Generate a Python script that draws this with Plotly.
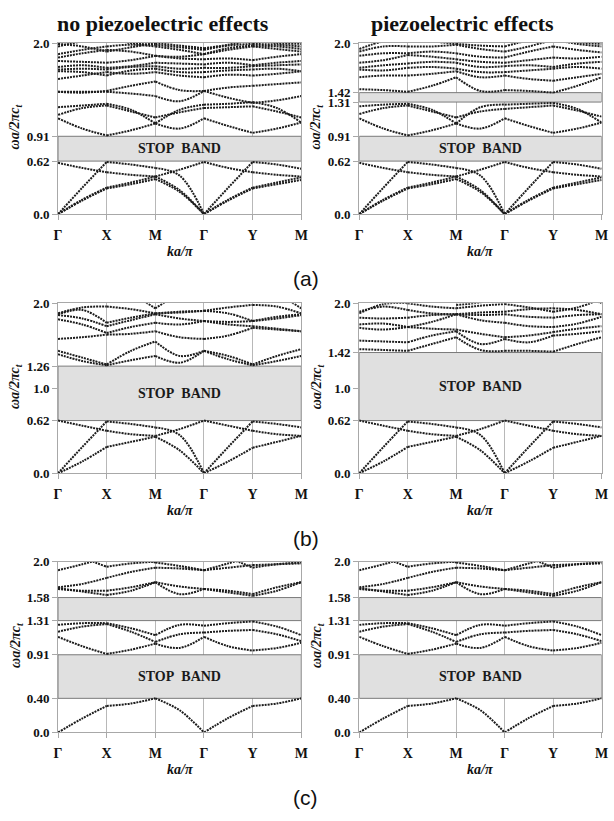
import plotly.graph_objects as go

# ---------------- data ----------------
K = [0, 0.5, 1, 1.5, 2, 2.5, 3, 3.5, 4, 4.5, 5]          # Γ X M Γ Y M path coordinate
K_LABELS = ["Γ", "X", "M", "Γ", "Y", "M"]

# panel (a): no piezoelectric effects
a_ta1 = [0, 0.16, 0.30, 0.35, 0.41, 0.26, 0, 0.16, 0.30, 0.35, 0.40]
a_ta2 = [0, 0.17, 0.31, 0.37, 0.44, 0.28, 0, 0.17, 0.31, 0.37, 0.43]
a_la = [0, 0.31, 0.61, 0.58, 0.54, 0.45, 0, 0.31, 0.61, 0.58, 0.53]
a_o1 = [0.60, 0.54, 0.49, 0.46, 0.44, 0.52, 0.61, 0.54, 0.49, 0.46, 0.44]
a_m1 = [1.12, 1.00, 0.92, 0.98, 1.06, 1.00, 1.12, 1.03, 0.95, 1.00, 1.07]
a_m2 = [1.16, 1.24, 1.27, 1.20, 1.13, 1.19, 1.24, 1.25, 1.26, 1.20, 1.13]
a_m3 = [1.25, 1.27, 1.29, 1.22, 1.06, 1.22, 1.28, 1.29, 1.31, 1.24, 1.07]
a_m4 = [1.43, 1.43, 1.43, 1.41, 1.38, 1.32, 1.44, 1.36, 1.30, 1.33, 1.38]
a_m5 = [1.43, 1.42, 1.44, 1.50, 1.55, 1.45, 1.44, 1.48, 1.50, 1.52, 1.54]
a_u1 = [1.58, 1.62, 1.66, 1.64, 1.66, 1.62, 1.60, 1.63, 1.62, 1.64, 1.67]
a_u2 = [1.67, 1.66, 1.62, 1.68, 1.70, 1.66, 1.66, 1.68, 1.69, 1.70, 1.67]
a_u3 = [1.69, 1.70, 1.69, 1.72, 1.73, 1.70, 1.71, 1.71, 1.73, 1.74, 1.75]
a_u4 = [1.72, 1.74, 1.71, 1.73, 1.77, 1.76, 1.75, 1.77, 1.74, 1.77, 1.79]
a_u5 = [1.79, 1.78, 1.77, 1.80, 1.85, 1.82, 1.81, 1.82, 1.80, 1.84, 1.87]
a_u6 = [1.83, 1.88, 1.92, 1.90, 1.85, 1.84, 1.87, 1.92, 1.96, 1.93, 1.90]
a_u7 = [1.87, 1.92, 1.96, 1.98, 1.96, 1.92, 1.87, 1.94, 1.97, 1.96, 1.93]
a_u8 = [1.96, 2.02, 2.06, 2.00, 1.98, 1.95, 1.92, 1.97, 1.99, 1.98, 1.96]
a_u9 = [1.99, 1.96, 1.90, 1.95, 2.00, 1.97, 1.94, 1.98, 2.04, 2.00, 1.99]

# panel (a): piezoelectric effects (upper bands)
ap_m2 = [1.17, 1.24, 1.27, 1.20, 1.13, 1.20, 1.23, 1.25, 1.27, 1.21, 1.14]
ap_m3 = [1.26, 1.28, 1.29, 1.22, 1.06, 1.25, 1.28, 1.29, 1.30, 1.23, 1.07]
ap_u0 = [1.46, 1.45, 1.43, 1.50, 1.60, 1.44, 1.45, 1.44, 1.42, 1.50, 1.60]
ap_u1 = [1.60, 1.62, 1.62, 1.64, 1.67, 1.60, 1.62, 1.58, 1.56, 1.60, 1.64]
ap_u2 = [1.69, 1.68, 1.71, 1.72, 1.70, 1.66, 1.66, 1.68, 1.70, 1.72, 1.70]
ap_u3 = [1.71, 1.74, 1.76, 1.78, 1.77, 1.72, 1.73, 1.74, 1.72, 1.76, 1.78]
ap_u4 = [1.77, 1.80, 1.86, 1.84, 1.81, 1.78, 1.77, 1.80, 1.83, 1.82, 1.84]
ap_u5 = [1.85, 1.88, 1.88, 1.90, 1.88, 1.84, 1.83, 1.90, 1.96, 1.92, 1.89]
ap_u6 = [1.90, 1.96, 1.96, 1.96, 1.98, 1.93, 1.90, 1.96, 2.04, 1.99, 1.96]
ap_u7 = [1.93, 2.02, 2.05, 2.02, 1.99, 1.97, 1.96, 2.03, 2.06, 2.01, 1.99]

# panel (b)
b_ta = [0, 0.14, 0.31, 0.37, 0.43, 0.27, 0, 0.14, 0.30, 0.37, 0.44]
b_la = [0, 0.31, 0.61, 0.58, 0.54, 0.45, 0, 0.31, 0.61, 0.58, 0.54]
b_o1 = [0.62, 0.56, 0.50, 0.46, 0.44, 0.52, 0.62, 0.56, 0.50, 0.46, 0.44]
bL_1 = [1.40, 1.32, 1.27, 1.33, 1.38, 1.30, 1.44, 1.34, 1.27, 1.32, 1.38]
bL_2 = [1.44, 1.36, 1.28, 1.44, 1.55, 1.38, 1.44, 1.38, 1.28, 1.38, 1.46]
bL_3 = [1.58, 1.60, 1.63, 1.64, 1.67, 1.60, 1.58, 1.62, 1.71, 1.69, 1.67]
bL_4 = [1.81, 1.75, 1.65, 1.72, 1.77, 1.75, 1.79, 1.75, 1.73, 1.70, 1.67]
bL_5 = [1.86, 1.82, 1.73, 1.80, 1.87, 1.82, 1.79, 1.78, 1.79, 1.82, 1.86]
bL_6 = [1.87, 1.92, 1.77, 1.83, 1.88, 1.90, 1.91, 1.88, 1.79, 1.84, 1.87]
bL_7 = [1.88, 1.95, 1.96, 1.93, 1.88, 1.89, 1.91, 1.95, 1.98, 1.96, 1.88]
bL_8 = [None, None, None, 2.12, 1.94, 2.12, None, None, None, 2.12, 1.94]
bR_1 = [1.46, 1.45, 1.44, 1.52, 1.60, 1.45, 1.44, 1.44, 1.43, 1.52, 1.60]
bR_2 = [1.56, 1.55, 1.54, 1.62, 1.67, 1.52, 1.58, 1.54, 1.62, 1.64, 1.67]
bR_3 = [1.71, 1.69, 1.72, 1.70, 1.69, 1.64, 1.60, 1.62, 1.66, 1.70, 1.73]
bR_4 = [1.75, 1.76, 1.72, 1.78, 1.87, 1.80, 1.77, 1.73, 1.72, 1.76, 1.84]
bR_5 = [1.83, 1.82, 1.83, 1.86, 1.87, 1.86, 1.87, 1.84, 1.83, 1.86, 1.87]
bR_6 = [1.90, 1.96, 1.92, 1.88, 1.87, 1.89, 1.90, 1.93, 1.94, 1.92, 1.87]
bR_7 = [1.88, 1.99, 2.00, 1.96, 1.94, 1.97, 1.99, 1.95, 1.90, 1.95, 2.05]
bR_8 = [None, None, None, None, 1.98, 2.01, 2.08, None, None, 2.10, 2.00]

# panel (c)
c_ta = [0, 0.165, 0.31, 0.34, 0.40, 0.26, 0, 0.17, 0.31, 0.34, 0.40]
c_m1 = [1.26, 1.28, 1.28, 1.22, 1.14, 1.26, 1.25, 1.28, 1.30, 1.24, 1.14]
c_m2 = [1.18, 1.24, 1.27, 1.18, 1.06, 1.15, 1.17, 1.19, 1.20, 1.15, 1.07]
c_m3 = [1.12, 1.01, 0.92, 0.97, 1.04, 0.99, 1.12, 1.01, 0.96, 0.99, 1.05]
c_u1 = [1.69, 1.65, 1.61, 1.66, 1.76, 1.71, 1.68, 1.64, 1.60, 1.66, 1.76]
c_u2 = [1.68, 1.66, 1.66, 1.70, 1.76, 1.62, 1.68, 1.66, 1.62, 1.70, 1.76]
c_u3 = [1.70, 1.74, 1.81, 1.88, 1.93, 1.92, 1.90, 1.93, 1.96, 1.97, 1.98]
c_u4 = [1.90, 1.97, 2.05, 2.06, 1.99, 1.95, 1.90, 1.98, 2.06, 2.06, 2.00]
c_u5 = [2.10, 2.04, 1.94, 1.98, 2.00, 2.04, 2.10, 2.04, 1.93, 1.97, 1.99]

# stop bands (low, high, labelled)
gaps_aL = [(0.62, 0.91, True)]
gaps_aR = [(0.62, 0.91, True), (1.31, 1.42, False)]
gaps_bL = [(0.62, 1.26, True)]
gaps_bR = [(0.62, 1.42, True)]
gaps_c = [(0.40, 0.91, True), (1.31, 1.58, False)]

ticks_aL = [0.0, 0.62, 0.91, 2.0]
ticks_aR = [0.0, 0.62, 0.91, 1.31, 1.42, 2.0]
ticks_bL = [0.0, 0.62, 1.0, 1.26, 2.0]
ticks_bR = [0.0, 0.62, 1.0, 1.42, 2.0]
ticks_c = [0.0, 0.40, 0.91, 1.31, 1.58, 2.0]
tick_text = {0.0: "0.0", 0.62: "0.62", 0.91: "0.91", 1.31: "1.31", 1.42: "1.42",
             2.0: "2.0", 1.0: "1.0", 1.26: "1.26", 0.40: "0.40", 1.58: "1.58"}

bands_aL = [a_ta1, a_ta2, a_la, a_o1, a_m1, a_m2, a_m3, a_m4, a_m5,
            a_u1, a_u2, a_u3, a_u4, a_u5, a_u6, a_u7, a_u8, a_u9]
bands_aR = [a_ta1, a_ta2, a_la, a_o1, a_m1, ap_m2, ap_m3,
            ap_u0, ap_u1, ap_u2, ap_u3, ap_u4, ap_u5, ap_u6, ap_u7]
bands_bL = [b_ta, b_la, b_o1, bL_1, bL_2, bL_3, bL_4, bL_5, bL_6, bL_7, bL_8]
bands_bR = [b_ta, b_la, b_o1, bR_1, bR_2, bR_3, bR_4, bR_5, bR_6, bR_7, bR_8]
bands_c = [c_ta, c_m1, c_m2, c_m3, c_u1, c_u2, c_u3, c_u4, c_u5]

# ---------------- layout geometry (target pixels in the screenshot) ----------------
W, H = 614, 821
XL = (55, 302.7)
XR = (361.7, 608.5)
ROWS = [(36.7, 211), (301.7, 475), (565, 739)]

def px(x):
    return x / W

def py(y):
    return 1 - y / H

panels = [
    (bands_aL, gaps_aL, ticks_aL, 0, XL),
    (bands_aR, gaps_aR, ticks_aR, 0, XR),
    (bands_bL, gaps_bL, ticks_bL, 1, XL),
    (bands_bR, gaps_bR, ticks_bR, 1, XR),
    (bands_c, gaps_c, ticks_c, 2, XL),
    (bands_c, gaps_c, ticks_c, 2, XR),
]

fig = go.Figure()
layout = dict(width=W, height=H, margin=dict(l=0, r=0, t=0, b=0),
              paper_bgcolor="white", plot_bgcolor="white", showlegend=False)
shapes, annotations = [], []

SERIF = "Liberation Serif, Times New Roman, serif"
BAND_COLOR = "#1c1c1c"


def ann(x, y, text, size, family=SERIF, angle=0):
    annotations.append(dict(xref="paper", yref="paper", x=px(x), y=py(y),
                            xanchor="center", yanchor="middle", text=text,
                            showarrow=False, textangle=angle,
                            font=dict(family=family, size=size, color="#111")))


for i, (bands, gaps, ticks, row, xr) in enumerate(panels):
    n = i + 1
    xa = "x" if n == 1 else f"x{n}"
    ya = "y" if n == 1 else f"y{n}"
    top, bot = ROWS[row]
    layout["xaxis" if n == 1 else f"xaxis{n}"] = dict(
        domain=[px(xr[0]), px(xr[1])], anchor=ya, range=[0, 5],
        tickmode="array", tickvals=[0, 1, 2, 3, 4, 5],
        ticktext=[f"<b>{t}</b>" for t in K_LABELS],
        showgrid=True, gridcolor="#b8b8b8", gridwidth=1, zeroline=False,
        showline=True, linecolor="#a8a8a8", linewidth=1, mirror=True,
        ticks="outside", ticklen=5, tickcolor="#a8a8a8", ticklabelstandoff=3,
        tickfont=dict(family=SERIF, size=14, color="#111"),
        fixedrange=True)
    layout["yaxis" if n == 1 else f"yaxis{n}"] = dict(
        domain=[py(bot), py(top)], anchor=xa, range=[0, 2],
        tickmode="array", tickvals=ticks, ticktext=[f"<b>{tick_text[t]}</b>" for t in ticks],
        showgrid=False, zeroline=False,
        showline=True, linecolor="#a8a8a8", linewidth=1, mirror=True,
        ticks="outside", ticklen=5, tickcolor="#a8a8a8",
        tickfont=dict(family=SERIF, size=13, color="#111"),
        fixedrange=True)

    for (lo, hi, lab) in gaps:
        shapes.append(dict(type="rect", xref=xa, yref=ya, x0=0, x1=5, y0=lo, y1=hi,
                           fillcolor="#e0e0e0", line=dict(color="#7a7a7a", width=1),
                           layer="between"))
        if lab:
            annotations.append(dict(xref=xa, yref=ya, x=2.5, y=(lo + hi) / 2,
                                    xanchor="center", yanchor="middle",
                                    text="<b>STOP\u00a0\u00a0BAND</b>", showarrow=False,
                                    font=dict(family=SERIF, size=14, color="#1a1a1a")))

    for vals in bands:
        xs, ys = [], []
        for s in range(5):
            for j in (2 * s, 2 * s + 1, 2 * s + 2):
                xs.append(K[j])
                ys.append(vals[j])
            xs.append(None)
            ys.append(None)
        fig.add_trace(go.Scatter(x=xs, y=ys, xaxis=xa, yaxis=ya, mode="lines",
                                 line=dict(color=BAND_COLOR, width=2, dash="2px,1px",
                                           shape="spline", smoothing=1),
                                 hoverinfo="skip", connectgaps=False))

    # axis titles
    cx = (xr[0] + xr[1]) / 2
    ann(cx, bot + 38, "<b><i>ka/π</i></b>", 14)
    ann(xr[0] - 43, (top + bot) / 2 - 2, "<b><i>ωa/2πc<sub>t</sub></i></b>", 14, angle=-90)

# column titles
ann(162, 17, "<b>no piezoelectric effects</b>", 22)
ann(467, 17, "<b>piezoelectric effects</b>", 22)
# row labels
for lab, yy in (("(a)", 277), ("(b)", 541), ("(c)", 805)):
    ann(307, yy, lab, 21, family="Liberation Sans, Arial, sans-serif")

layout["shapes"] = shapes
layout["annotations"] = annotations
fig.update_layout(**layout)
fig.write_html("out.html",
               config={"displayModeBar": False},
               post_script="document.body.style.margin='0px';"
                           "document.documentElement.style.overflow='hidden';")
